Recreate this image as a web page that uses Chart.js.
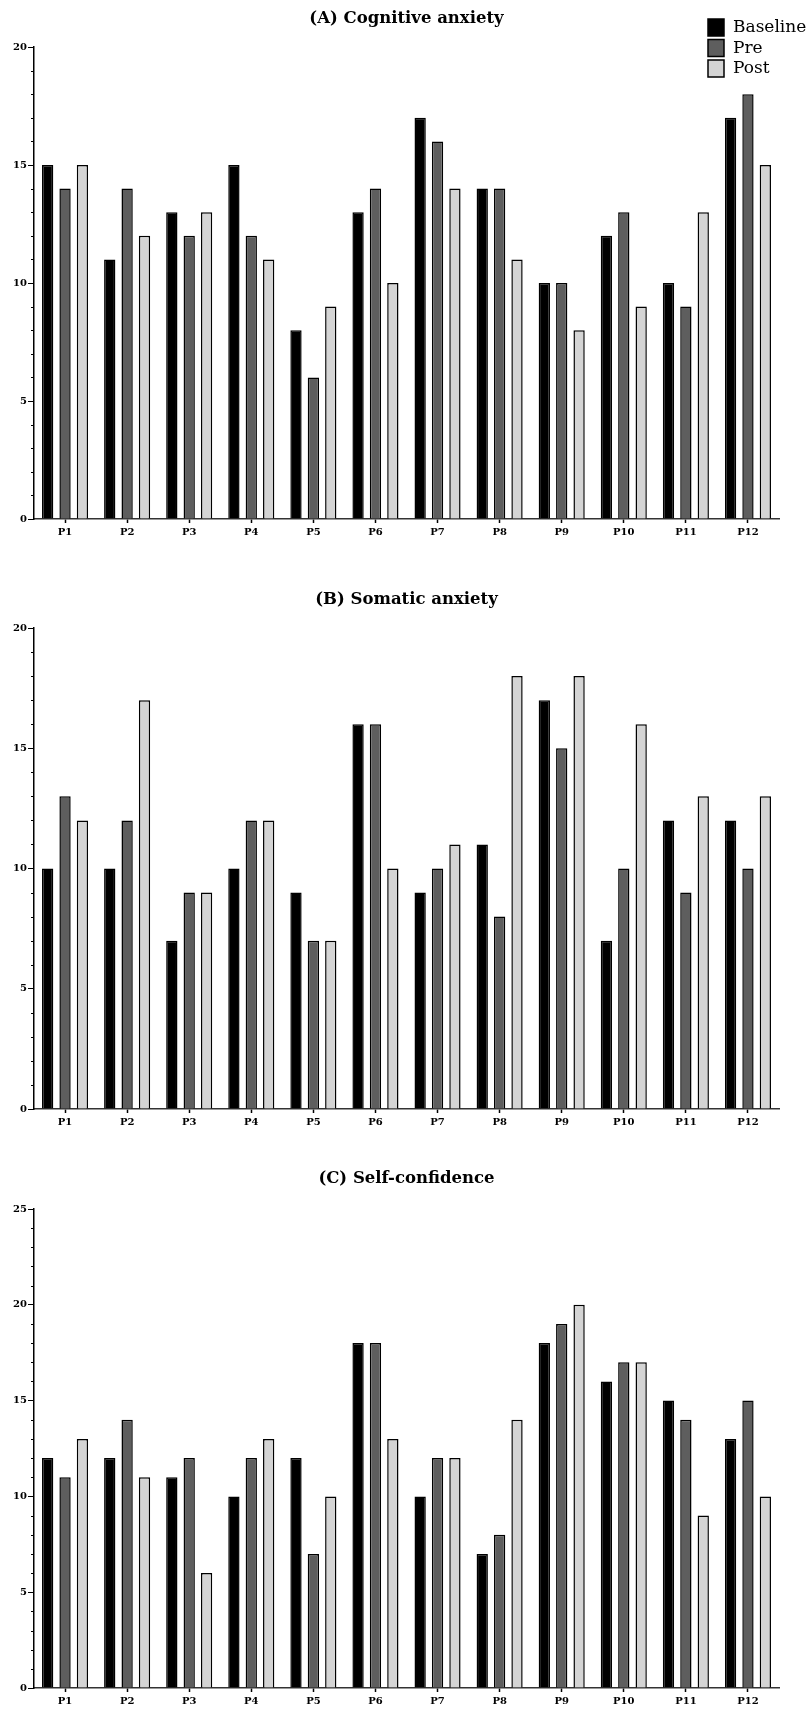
<!DOCTYPE html>
<html>
<head>
<meta charset="utf-8">
<script src="https://cdn.jsdelivr.net/npm/chart.js@4.4.1/dist/chart.umd.min.js"></script>
<style>
  html, body { margin: 0; padding: 0; background: #fff; overflow: hidden; }
  body { width: 809px; height: 1709px; position: relative; }
  canvas { position: absolute; left: 0; }
</style>
</head>
<body>
<canvas id="chartA" width="809" height="545" style="top:0px"></canvas>
<canvas id="chartB" width="809" height="554" style="top:581px"></canvas>
<canvas id="chartC" width="809" height="549" style="top:1160px"></canvas>
<script>
const participants = ["P1", "P2", "P3", "P4", "P5", "P6", "P7", "P8", "P9", "P10", "P11", "P12"];
const seriesNames = ["Baseline", "Pre", "Post"];
const seriesColors = ["#000000", "#5e5e5e", "#d4d4d4"];

// (A) Cognitive anxiety
const cognitiveBaseline = [15, 11, 13, 15, 8, 13, 17, 14, 10, 12, 10, 17];
const cognitivePre = [14, 14, 12, 12, 6, 14, 16, 14, 10, 13, 9, 18];
const cognitivePost = [15, 12, 13, 11, 9, 10, 14, 11, 8, 9, 13, 15];

// (B) Somatic anxiety
const somaticBaseline = [10, 10, 7, 10, 9, 16, 9, 11, 17, 7, 12, 12];
const somaticPre = [13, 12, 9, 12, 7, 16, 10, 8, 15, 10, 9, 10];
const somaticPost = [12, 17, 9, 12, 7, 10, 11, 18, 18, 16, 13, 13];

// (C) Self-confidence
const confidenceBaseline = [12, 12, 11, 10, 12, 18, 10, 7, 18, 16, 15, 13];
const confidencePre = [11, 14, 12, 12, 7, 18, 12, 8, 19, 17, 14, 15];
const confidencePost = [13, 11, 6, 13, 10, 13, 12, 14, 20, 17, 9, 10];

const tickFont = { family: "'DejaVu Serif', serif", size: 10, weight: "bold" };

// small ticks at every unit between the labelled ones
const minorTicks = {
  id: "minorTicks",
  afterDraw(chart) {
    const y = chart.scales.y;
    const ctx = chart.ctx;
    ctx.save();
    ctx.strokeStyle = "#000";
    ctx.lineWidth = 1;
    for (let v = y.min; v <= y.max; v++) {
      if (v % 5 === 0) continue;
      const py = Math.round(y.getPixelForValue(v)) + 0.5;
      ctx.beginPath();
      ctx.moveTo(y.right - 3, py);
      ctx.lineTo(y.right, py);
      ctx.stroke();
    }
    ctx.restore();
  },
};

const cornerLegend = {
  id: "cornerLegend",
  afterDraw(chart, args, opts) {
    const ctx = chart.ctx;
    ctx.save();
    ctx.font = "17px 'DejaVu Serif', serif";
    ctx.textBaseline = "middle";
    ctx.textAlign = "left";
    chart.data.datasets.forEach((ds, i) => {
      const top = opts.y + i * opts.step;
      ctx.fillStyle = ds.backgroundColor;
      ctx.fillRect(opts.x, top, 16, 17);
      ctx.strokeStyle = "#000";
      ctx.lineWidth = 1.5;
      ctx.strokeRect(opts.x, top, 16, 17);
      ctx.fillStyle = "#000";
      ctx.fillText(ds.label, opts.x + 25, top + 9);
    });
    ctx.restore();
  },
};

const makeChart = (id, values, title, yMax, titlePad, xHeight, withLegend) => {
  const ctx = document.getElementById(id).getContext("2d");
  const plugins = [minorTicks];
  if (withLegend) plugins.push(cornerLegend);
  return new Chart(ctx, {
    type: "bar",
    data: {
      labels: participants,
      datasets: values.map((v, i) => ({
        label: seriesNames[i],
        data: v,
        backgroundColor: seriesColors[i],
        borderColor: "#000",
        borderWidth: 1.5,
        categoryPercentage: 0.84,
        barPercentage: 0.65,
      })),
    },
    options: {
      responsive: false,
      animation: false,
      layout: { padding: { left: 0, right: 30, top: 0, bottom: 0 } },
      plugins: {
        legend: { display: false },
        tooltip: { enabled: false },
        title: {
          display: true,
          text: title,
          fullSize: false,
          color: "#000",
          font: { family: "'DejaVu Serif', serif", size: 16.5, weight: "bold" },
          padding: titlePad,
        },
        cornerLegend: { x: 708, y: 19, step: 20.5 },
      },
      scales: {
        x: {
          grid: { display: true, drawOnChartArea: false, offset: false, tickLength: 4, color: "#000", tickWidth: 1.5 },
          border: { display: true, color: "#333", width: 1.5 },
          ticks: { color: "#000", font: tickFont, padding: 3, maxRotation: 0, autoSkip: false },
          afterFit: (s) => { s.height = xHeight; },
        },
        y: {
          min: 0,
          max: yMax,
          grid: { display: true, drawOnChartArea: false, tickLength: 6, color: "#000", tickWidth: 1 },
          border: { display: true, color: "#000", width: 1.5 },
          ticks: { stepSize: 5, color: "#000", font: tickFont, padding: 1 },
          afterFit: (s) => { s.width = 34; },
        },
      },
    },
    plugins: plugins,
  });
};

makeChart("chartA", [cognitiveBaseline, cognitivePre, cognitivePost],
  "(A) Cognitive anxiety", 20, { top: 8.6, bottom: 18.6 }, 26, true);
makeChart("chartB", [somaticBaseline, somaticPre, somaticPost],
  "(B) Somatic anxiety", 20, { top: 8.6, bottom: 18.6 }, 26, false);
makeChart("chartC", [confidenceBaseline, confidencePre, confidencePost],
  "(C) Self-confidence", 25, { top: 8.6, bottom: 20.6 }, 21, false);
</script>
</body>
</html>
